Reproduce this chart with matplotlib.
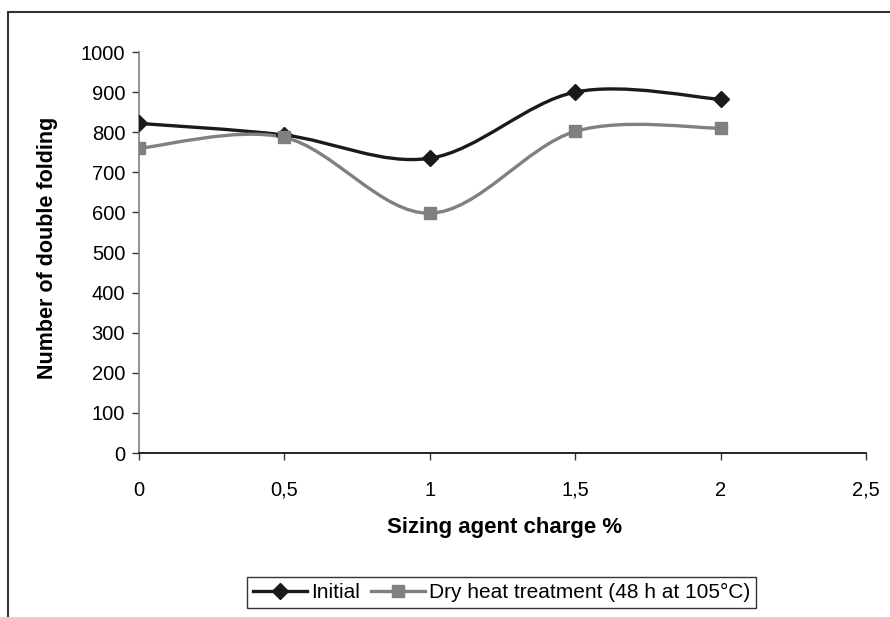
import numpy as np
import matplotlib
matplotlib.use("Agg")
import matplotlib.pyplot as plt
from matplotlib.path import Path
from matplotlib.patches import PathPatch, Rectangle
from matplotlib.lines import Line2D

plt.rcParams["font.family"] = ["Liberation Sans", "DejaVu Sans"]

# sizing agent charge (%) and fold counts
charge = [0, 0.5, 1, 1.5, 2]
initial = [822, 793, 735, 900, 882]
dry_heat = [760, 787, 598, 802, 810]

x_ticks = [0, 0.5, 1, 1.5, 2, 2.5]
x_tick_labels = ["0", "0,5", "1", "1,5", "2", "2,5"]
y_ticks = list(range(0, 1001, 100))


def smooth_path(xs, ys):
    # spreadsheet-style smoothed line: cubic Bezier through each point
    pts = np.column_stack([xs, ys]).astype(float)
    ext = np.vstack([pts[0], pts, pts[-1]])
    verts = [pts[0]]
    codes = [Path.MOVETO]
    for i in range(len(pts) - 1):
        p0, p1, p2, p3 = ext[i], ext[i + 1], ext[i + 2], ext[i + 3]
        c1 = p1 + (p2 - p0) / 6.0
        c2 = p2 - (p3 - p1) / 6.0
        verts += [c1, c2, p2]
        codes += [Path.CURVE4] * 3
    return Path(verts, codes)


fig = plt.figure(figsize=(8.9, 6.17), dpi=100)
ax = fig.add_axes([0.1562, 0.2658, 0.973 - 0.1562, 0.9157 - 0.2658])

series = [
    (initial, "Initial", "#1a1a1a", "D", 8),
    (dry_heat, "Dry heat treatment (48 h at 105°C)", "#808080", "s", 8),
]
handles = []
for vals, label, color, marker, ms in series:
    ax.add_patch(PathPatch(smooth_path(charge, vals), fill=False,
                           edgecolor=color, lw=2.4, zorder=3))
    ax.plot(charge, vals, linestyle="none", marker=marker, color=color,
            markersize=ms, zorder=4)
    handles.append(Line2D([], [], color=color, lw=2.4, marker=marker,
                          markersize=ms, label=label))

ax.set_xlim(0, 2.5)
ax.set_ylim(0, 1000)
ax.set_xticks(x_ticks)
ax.set_xticklabels(x_tick_labels)
ax.set_yticks(y_ticks)

for side in ["top", "right"]:
    ax.spines[side].set_visible(False)
ax.spines["left"].set_color("#808080")
ax.spines["left"].set_linewidth(1.2)
ax.spines["bottom"].set_color("black")
ax.spines["bottom"].set_linewidth(1.2)

ax.tick_params(axis="y", direction="out", length=5, width=1, pad=5,
               labelsize=14.5, color="#333333")
ax.tick_params(axis="x", direction="out", length=5, width=1, pad=15,
               labelsize=14.5, color="#333333")

ax.set_xlabel("Sizing agent charge %", fontsize=16, fontweight="bold")
ax.set_ylabel("Number of double folding", fontsize=15.5, fontweight="bold")
ax.xaxis.set_label_coords(505 / 890, 1 - 527 / 617, transform=fig.transFigure)
ax.yaxis.set_label_coords(48 / 890, 1 - 248 / 617, transform=fig.transFigure)
ax.xaxis.label.set_va("center")
ax.yaxis.label.set_va("center")

leg = fig.legend(handles=handles, loc="center",
                 bbox_to_anchor=(0.5635, 0.0397), ncol=2, fontsize=15,
                 frameon=True, fancybox=False, handlelength=2.6,
                 handletextpad=0.2, columnspacing=0.5, borderpad=0.3)
leg.get_frame().set_edgecolor("black")
leg.get_frame().set_linewidth(1.0)

# chart area border
fig.add_artist(Rectangle((8 / 890, -0.1), 1.0, 605 / 617 + 0.1,
                         transform=fig.transFigure, fill=False,
                         edgecolor="#333333", lw=1.5))

fig.savefig("out.png", dpi=100)
